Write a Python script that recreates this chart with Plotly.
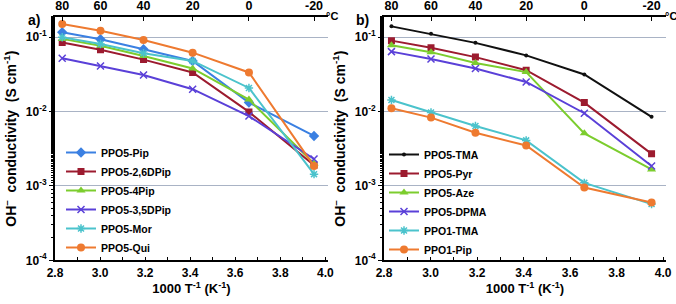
import plotly.graph_objects as go

# ---- data ----
x_vals = [2.832, 3.002, 3.193, 3.411, 3.661, 3.950]   # 1000/T at 80,60,40,20,0,-20 C
temp_labels = ["80", "60", "40", "20", "0", "-20"]
x_ticks = [2.8, 3.0, 3.2, 3.4, 3.6, 3.8, 4.0]
x_ticklabels = ["2.8", "3.0", "3.2", "3.4", "3.6", "3.8", "4.0"]
y_ticks = [1e-4, 1e-3, 1e-2, 1e-1]
y_ticklabels = ["10<sup>-4</sup>", "10<sup>-3</sup>", "10<sup>-2</sup>", "10<sup>-1</sup>"]

names_a = ["PPO5-Pip", "PPO5-2,6DPip", "PPO5-4Pip", "PPO5-3,5DPip", "PPO5-Mor", "PPO5-Qui"]
pip = [0.117, 0.094, 0.069, 0.048, 0.0132, 0.0047]
dpip26 = [0.085, 0.068, 0.050, 0.0336, 0.0099, 0.0019]
pip4 = [0.095, 0.077, 0.056, 0.038, 0.0145, 0.0020]
dpip35 = [0.052, 0.041, 0.031, 0.020, 0.0087, 0.0023]
mor = [0.100, 0.081, 0.061, 0.048, 0.0208, 0.00144]
qui = [0.151, 0.122, 0.092, 0.062, 0.0336, 0.00185]

names_b = ["PPO5-TMA", "PPO5-Pyr", "PPO5-Aze", "PPO5-DPMA", "PPO1-TMA", "PPO1-Pip"]
tma5 = [0.140, 0.111, 0.084, 0.057, 0.0316, 0.0085]
pyr = [0.090, 0.072, 0.054, 0.036, 0.0132, 0.0027]
aze = [0.078, 0.063, 0.045, 0.034, 0.0051, 0.00167]
dpma = [0.064, 0.051, 0.038, 0.025, 0.0095, 0.00185]
tma1 = [0.0143, 0.0097, 0.0064, 0.0041, 0.0011, 0.00057]
pip1 = [0.0111, 0.0083, 0.0052, 0.0035, 0.00095, 0.0006]

# ---- styles ----
BLUE = "#3b80e2"
RED = "#9c1b2f"
GREEN = "#7ccd2e"
PURPLE = "#5a40d8"
CYAN = "#4bc3cc"
ORANGE = "#ee7a30"
BLACK = "#111111"

FONT = "Liberation Sans, Arial, sans-serif"

series_a = [
    (names_a[0], pip, BLUE, "diamond", 8),
    (names_a[1], dpip26, RED, "square", 7),
    (names_a[2], pip4, GREEN, "triangle-up", 8),
    (names_a[3], dpip35, PURPLE, "x-thin-open", 7),
    (names_a[4], mor, CYAN, "asterisk-open", 7),
    (names_a[5], qui, ORANGE, "circle", 8),
]
series_b = [
    (names_b[0], tma5, BLACK, "circle", 4),
    (names_b[1], pyr, RED, "square", 7),
    (names_b[2], aze, GREEN, "triangle-up", 8),
    (names_b[3], dpma, PURPLE, "x-thin-open", 7),
    (names_b[4], tma1, CYAN, "asterisk-open", 7),
    (names_b[5], pip1, ORANGE, "circle", 8),
]

fig = go.Figure()


def add_series(series, xa, ya, legend):
    for name, ys, color, sym, size in series:
        marker = dict(symbol=sym, size=size, color=color)
        if sym.endswith("-open"):
            marker["line"] = dict(color=color, width=1.5)
        fig.add_trace(go.Scatter(
            x=x_vals, y=ys, name="<b>" + name + "</b>", mode="lines+markers",
            line=dict(color=color, width=2), marker=marker,
            xaxis=xa, yaxis=ya, legend=legend, hoverinfo="skip"))


add_series(series_a, "x", "y", "legend")
add_series(series_b, "x2", "y2", "legend2")

# invisible traces to instantiate the top (temperature) axes
fig.add_trace(go.Scatter(x=[x_vals[0]], y=[0.1], xaxis="x3", yaxis="y", mode="markers",
                         opacity=0, showlegend=False, hoverinfo="skip"))
fig.add_trace(go.Scatter(x=[x_vals[0]], y=[0.1], xaxis="x4", yaxis="y2", mode="markers",
                         opacity=0, showlegend=False, hoverinfo="skip"))

XR = [2.8, 4.012]
YR = [-4, -0.728]
dom_a = [55 / 676, 328 / 676]
dom_b = [384 / 676, 666 / 676]
dom_y = [1 - 260.3 / 304, 1 - 17 / 304]

tickfont = dict(family=FONT, size=12, color="black")


def xaxis(domain, anchor):
    return dict(domain=domain, anchor=anchor, range=XR, tickvals=x_ticks, automargin=False,
                ticktext=["<b>" + t + "</b>" for t in x_ticklabels], tickfont=tickfont,
                showline=True, linecolor="black", linewidth=2, ticks="inside", ticklen=3,
                tickcolor="black", showgrid=False, zeroline=False,
                minor=dict(ticks="inside", ticklen=3, tickcolor="black", dtick=0.1, showgrid=False),
                title=dict(text="<b>1000 T<sup>-1</sup> (K<sup>-1</sup>)</b>",
                           font=dict(family=FONT, size=13, color="black"), standoff=4))


def topaxis(overlay, anchor):
    return dict(overlaying=overlay, anchor=anchor, side="top", range=XR, tickvals=x_vals,
                automargin=False,
                ticktext=["<b>" + t + "</b>" for t in temp_labels],
                tickfont=dict(family=FONT, size=12.5, color="black"),
                showline=True, linecolor="black", linewidth=2, ticks="inside", ticklen=4,
                tickcolor="black", showgrid=False, zeroline=False)


def yaxis(anchor, domain):
    return dict(domain=domain, anchor=anchor, type="log", range=YR, tickvals=y_ticks,
                automargin=False,
                ticktext=["<b>" + t + "</b>" for t in y_ticklabels], tickfont=tickfont,
                showline=True, linecolor="black", linewidth=2, ticks="outside", ticklen=4,
                tickcolor="black", showgrid=True, gridcolor="#a9b3c5", gridwidth=1,
                zeroline=False,
                minor=dict(ticks="outside", ticklen=2, tickcolor="black", showgrid=False),
                title=dict(text="<b>OH<sup>–</sup>  conductivity  (S cm<sup>-1</sup>)</b>",
                           font=dict(family=FONT, size=14, color="black"), standoff=6))


legfont = dict(family=FONT, size=10.5, color="black")

fig.update_layout(
    width=676, height=304,
    margin=dict(l=0, r=0, t=0, b=0),
    paper_bgcolor="white", plot_bgcolor="white",
    xaxis=xaxis(dom_a, "y"),
    xaxis2=xaxis(dom_b, "y2"),
    xaxis3=topaxis("x", "y"),
    xaxis4=topaxis("x2", "y2"),
    yaxis=yaxis("x", dom_y),
    yaxis2=yaxis("x2", dom_y),
    legend=dict(x=61 / 676, y=1 - 138 / 304, xanchor="left", yanchor="top",
                bgcolor="rgba(0,0,0,0)", font=legfont, tracegroupgap=0, itemwidth=30),
    legend2=dict(x=384 / 676, y=1 - 140 / 304, xanchor="left", yanchor="top",
                 bgcolor="rgba(0,0,0,0)", font=legfont, tracegroupgap=0, itemwidth=30),
    annotations=[
        dict(text="<b>a)</b>", x=26 / 676, y=1 - 10 / 304, xref="paper", yref="paper",
             showarrow=False, font=dict(family=FONT, size=14, color="black")),
        dict(text="<b>b)</b>", x=362 / 676, y=1 - 10 / 304, xref="paper", yref="paper",
             showarrow=False, font=dict(family=FONT, size=14, color="black")),
        dict(text="<b>°C</b>", x=324 / 676, y=1 - 8 / 304, xref="paper", yref="paper",
             xanchor="left", showarrow=False, font=dict(family=FONT, size=11, color="black")),
        dict(text="<b>°C</b>", x=663 / 676, y=1 - 8 / 304, xref="paper", yref="paper",
             xanchor="left", showarrow=False, font=dict(family=FONT, size=11, color="black")),
    ],
)

fig.write_html("out.html", config={"displayModeBar": False},
               post_script="document.body.style.margin='0';")
